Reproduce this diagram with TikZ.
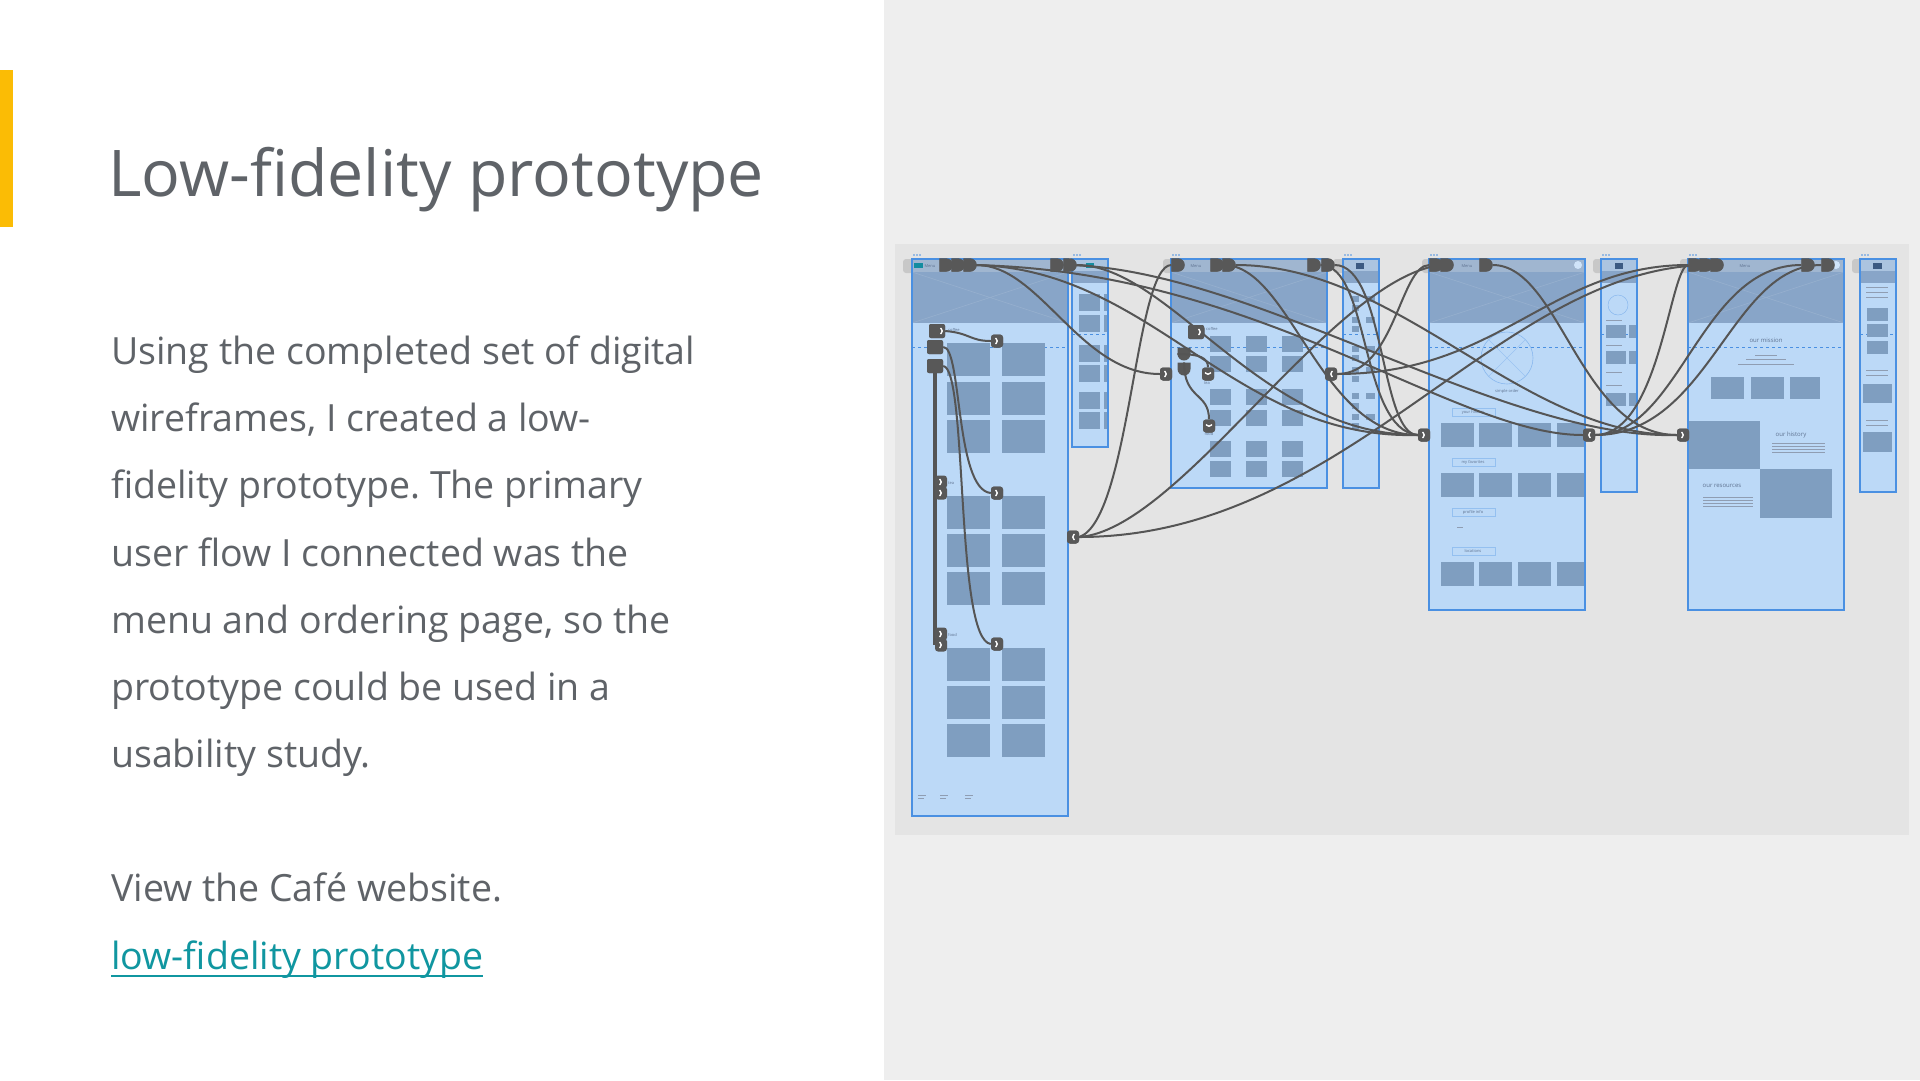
\documentclass[tikz,border=0pt]{standalone}
\usepackage{fontspec}
\setmainfont{Open Sans}
\usetikzlibrary{shapes.misc}
\frenchspacing
\definecolor{txt}{RGB}{95,99,104}
\definecolor{linkc}{RGB}{16,150,160}
\definecolor{yel}{RGB}{251,188,5}
\definecolor{panel}{RGB}{238,238,238}
\definecolor{canvas}{RGB}{228,228,228}
\definecolor{frbg}{RGB}{188,217,247}
\definecolor{frline}{RGB}{74,144,226}
\definecolor{hdr}{RGB}{136,165,200}
\definecolor{navc}{RGB}{160,182,208}
\definecolor{blk}{RGB}{127,158,192}
\definecolor{hotc}{RGB}{88,88,88}
\definecolor{wire}{RGB}{85,85,85}
\definecolor{tabc}{RGB}{200,200,200}
\definecolor{tiny}{RGB}{95,115,145}
\definecolor{logo}{RGB}{20,140,160}
\definecolor{navy}{RGB}{60,90,130}
\begin{document}
\begin{tikzpicture}[x=1pt,y=-1pt,
  body/.style={anchor=base west, inner sep=0, text=txt, font=\fontsize{37.5}{37.5}\selectfont},
  frborder/.style={draw=frline, line width=1.2pt},
  wirel/.style={draw=wire, line width=2pt},
  hotD/.style={rounded rectangle, rounded rectangle west arc=none, fill=hotc, minimum width=12pt, minimum height=13pt, inner sep=0},
  hotsq/.style={rectangle, rounded corners=2pt, fill=hotc, minimum width=16pt, minimum height=14pt, inner sep=0},
  mk/.style={rectangle, rounded corners=3pt, fill=hotc, minimum width=12pt, minimum height=13pt, inner sep=0},
  chevR/.style={mk, path picture={\draw[white,line width=1.4pt] ([xshift=-1.5pt,yshift=2.8pt]path picture bounding box.center) -- ([xshift=1.5pt]path picture bounding box.center) -- ([xshift=-1.5pt,yshift=-2.8pt]path picture bounding box.center);}},
  chevL/.style={mk, path picture={\draw[white,line width=1.4pt] ([xshift=1.5pt,yshift=2.8pt]path picture bounding box.center) -- ([xshift=-1.5pt]path picture bounding box.center) -- ([xshift=1.5pt,yshift=-2.8pt]path picture bounding box.center);}},
  chevD/.style={mk, path picture={\draw[white,line width=1.4pt] ([xshift=-2.8pt,yshift=1.5pt]path picture bounding box.center) -- ([yshift=-1.5pt]path picture bounding box.center) -- ([xshift=2.8pt,yshift=1.5pt]path picture bounding box.center);}},
  lbl/.style={inner sep=0, text=tiny, font=\fontsize{4}{4}\selectfont},
  lblb/.style={inner sep=0, text=tiny, font=\fontsize{6}{6}\selectfont},
  tline/.style={draw=tiny!70, line width=0.7pt}
]
\useasboundingbox (0,0) rectangle (1920,1080);
\fill[white] (0,0) rectangle (1920,1080);
\fill[panel] (884,0) rectangle (1920,1080);
\fill[canvas] (895,244) rectangle (1909,835);
\fill[yel] (0,70) rectangle (13,227);

% ---------- left text ----------
\node[anchor=base west, inner sep=0, text=txt, font=\fontsize{64.4}{64.4}\selectfont] (title) at (108,196) {Low-fidelity prototype};
\node[body] (b1) at (111,364) {Using the completed set of digital};
\node[body] (b2) at (111,431) {wireframes, I created a low-};
\node[body] (b3) at (111,498) {fidelity prototype. The primary};
\node[body] (b4) at (111,566) {user flow I connected was the};
\node[body] (b5) at (111,633) {menu and ordering page, so the};
\node[body] (b6) at (111,700) {prototype could be used in a};
\node[body] (b7) at (111,767) {usability study.};
\node[body] (b8) at (111,901) {View the Café website.};
\node[body, text=linkc] (lnk) at (111,969) {low-fidelity prototype};
\draw[linkc, line width=2.2pt] ([yshift=-7pt]lnk.base west) -- ([yshift=-7pt]lnk.base east);

% ---------- tabs left of frames ----------
\foreach \x/\w in {903/14,1163/12,1422/10,1333/12,1593/10,1680/10,1852/10}
  \fill[tabc, rounded corners=3pt] (\x,259) rectangle (\x+\w,273);

% ---------- wide frames ----------
\foreach \x/\b in {912/816,1171/488,1429/610,1688/610} {
  \fill[frbg] (\x,259) rectangle (\x+156,\b);
  \fill[hdr] (\x,272) rectangle (\x+156,323);
  \draw[white, opacity=0.12, line width=0.6pt] (\x,272) -- (\x+156,323) (\x,323) -- (\x+156,272);
  \fill[navc] (\x,259) rectangle (\x+156,272);
  \draw[frline, dashed, line width=0.9pt, dash pattern=on 3pt off 3pt] (\x,347) -- (\x+156,347);
  \foreach \d in {2,5,8} \fill[frline] (\x+\d,255) circle (0.9);
}
% ---------- narrow frames ----------
\foreach \x/\b in {1072/447,1343/488,1601/492,1860/492} {
  \fill[frbg] (\x,259) rectangle (\x+36,\b);
  \fill[hdr] (\x,271) rectangle (\x+36,283);
  \fill[navc!60!frbg] (\x,259) rectangle (\x+36,271);
  \draw[frline, dashed, line width=0.9pt, dash pattern=on 3pt off 3pt] (\x,334) -- (\x+36,334);
  \foreach \d in {2,5,8} \fill[frline] (\x+\d,255) circle (0.9);
}

% nav details
\fill[logo] (914,263) rectangle (923,268);
\node[lbl] (mn1) at (930,266) {Menu};
\node[lbl] (mn3) at (1196,266) {Menu};
\node[lbl] (mn5) at (1467,266) {Menu};
\node[lbl] (mn7) at (1745,266) {Menu};
\fill[logo] (1086,263) rectangle (1094,268);
\fill[navy] (1356,263) rectangle (1364,269);
\fill[navy] (1615,263) rectangle (1623,269);
\fill[navy] (1873,263) rectangle (1882,269);
\fill[frbg!70!white] (1578,265) circle (4);
\fill[frbg!70!white] (1836,265) circle (4);

% ---------- F1 blocks ----------
\foreach \y in {343,382,420,496,534,572,648,686,724} {
  \fill[blk] (947,\y) rectangle (990,\y+33);
  \fill[blk] (1002,\y) rectangle (1045,\y+33);
}
\node[lbl, anchor=west] (f1c) at (948,330) {coffee};
\node[lbl, anchor=west] (f1t) at (948,483) {tea};
\node[lbl, anchor=west] (f1f) at (948,635) {food};
\foreach \x in {918,940,965} \draw[tline] (\x,795) -- (\x+8,795) (\x,798) -- (\x+6,798);

% ---------- F2 blocks ----------
\foreach \y in {294,315,345,365,392,412} {
  \fill[blk] (1079,\y) rectangle (1100,\y+17);
  \fill[blk] (1104,\y) rectangle (1108,\y+17);
}

% ---------- F3 blocks ----------
\foreach \y in {336,356,389,410,441,461}
  \foreach \x in {1210,1246,1282}
    \fill[blk] (\x,\y) rectangle (\x+21,\y+16);
\node[lbl, anchor=west] (f3c) at (1206,329) {coffee};
\node[lbl] (f3t) at (1207,383) {tea};
\node[lbl] (f3f) at (1209,434) {food};

% ---------- F4 blocks ----------
\foreach \y in {296,305,317,326,346,355,367,376,393,403,414,423}
  \fill[blk] (1352,\y) rectangle (1359,\y+6);
\foreach \y in {296,317,346,367,393,414}
  \fill[blk] (1366,\y) rectangle (1375,\y+6);

% ---------- F5 content ----------
\draw[frline!45!frbg, line width=0.6pt] (1507,358) circle (26);
\draw[frline!30!frbg, line width=0.5pt] (1489,340) -- (1525,376) (1489,376) -- (1525,340);
\node[lbl] (so) at (1507,391) {simple order};
\foreach \y/\t in {408/your history,458/my favorites,508/profile info,547/locations} {
  \draw[frline!35!frbg, line width=0.5pt] (1452,\y) rectangle (1495,\y+8);
  \node[lbl] at (1473,\y+4) {\t};
}
\draw[tline] (1457,527) -- (1463,527);
\foreach \y in {423,473,562} {
  \foreach \x in {1441,1479,1518} \fill[blk] (\x,\y) rectangle (\x+33,\y+24);
  \fill[blk] (1557,\y) rectangle (1584,\y+24);
}

% ---------- F6 content ----------
\draw[frline!45!frbg, line width=0.5pt] (1618,305) circle (10);
\foreach \y in {325,351,393} {
  \fill[blk] (1606,\y) rectangle (1626,\y+13);
  \fill[blk] (1629,\y) rectangle (1637,\y+13);
}
\foreach \y in {320,345,372,385} \draw[tline] (1606,\y) -- (1622,\y);

% ---------- F7 content ----------
\node[lblb] (om) at (1766,340) {our mission};
\draw[tline] (1755,355) -- (1777,355) (1746,359) -- (1786,359) (1738,364) -- (1794,364);
\foreach \x in {1711,1751} \fill[blk] (\x,377) rectangle (\x+33,399);
\fill[blk] (1790,377) rectangle (1820,399);
\fill[blk] (1688,421) rectangle (1760,469);
\fill[blk] (1760,469) rectangle (1832,518);
\node[lblb] (oh) at (1791,435) {our history};
\foreach \y in {443,446,449,452} \draw[tline] (1772,\y) -- (1825,\y);
\node[lblb] (ors) at (1722,486) {our resources};
\foreach \y in {497,500,503,506} \draw[tline] (1703,\y) -- (1753,\y);

% ---------- F8 content ----------
\foreach \y in {308,324,341} \fill[blk] (1867,\y) rectangle (1888,\y+13);
\fill[blk] (1863,384) rectangle (1892,403);
\fill[blk] (1863,432) rectangle (1892,452);
\foreach \y in {287,292,297,370,375,420,425} \draw[tline] (1866,\y) -- (1888,\y);

% ---------- frame borders ----------
\foreach \x/\b in {912/816,1171/488,1429/610,1688/610}
  \draw[frborder] (\x,259) rectangle (\x+156,\b);
\foreach \x/\b in {1072/447,1343/488,1601/492,1860/492}
  \draw[frborder] (\x,259) rectangle (\x+36,\b);

% ---------- hotspot and target nodes ----------
\node[hotD] (n1a) at (946,265) {};
\node[hotD] (n1b) at (958,265) {};
\node[hotD] (n1c) at (970,265) {};
\node[hotD] (n1d) at (1057,265) {};
\node[hotD] (n1e) at (1070,265) {};
\node[hotD] (n3a) at (1178,265) {};
\node[hotD] (n3b) at (1217,265) {};
\node[hotD] (n3c) at (1229,265) {};
\node[hotD] (n3d) at (1314,265) {};
\node[hotD] (n3e) at (1328,265) {};
\node[hotD] (n5a) at (1436,265) {};
\node[hotD] (n5b) at (1447,265) {};
\node[hotD] (n5c) at (1486,265) {};
\node[hotD] (n7a) at (1695,265) {};
\node[hotD] (n7b) at (1706,265) {};
\node[hotD] (n7c) at (1717,265) {};
\node[hotD] (n7d) at (1808,265) {};
\node[hotD] (n7e) at (1828,265) {};

\node[chevR] (t1) at (1166,374) {};
\node[chevL] (t5) at (1331,374) {};
\node[chevR] (t2) at (1424,435) {};
\node[chevL] (t4) at (1589,435) {};
\node[chevR] (t3) at (1683,435) {};
\node[chevL] (t6) at (1073,537) {};
\node[chevR] (i1) at (997,341) {};
\node[chevR] (i2) at (997,493) {};
\node[chevR] (i3) at (997,644) {};
\node[hotsq] (L1) at (937,331) {};
\node[hotsq] (L2) at (935,347) {};
\node[hotsq] (L3) at (935,366) {};
\node[hotsq] (S1) at (1196,332) {};
\node[hotD, rotate=-90] (S2) at (1184,354) {};
\node[hotD, rotate=-90] (S3) at (1184,369) {};
\node[chevD] (v1) at (1208,374) {};
\node[chevD] (v2) at (1209,426) {};

% ---------- connectors ----------
\draw[wirel] (n1c.east) .. controls (1040,265) and (1080,374) .. (t1.west);
\draw[wirel] (n1e.east) .. controls (1170,265) and (1260,435) .. (t2.west);
\draw[wirel] (n1b.east) .. controls (1150,262) and (1230,440) .. (t2.west);
\draw[wirel] (n1a.east) .. controls (1250,262) and (1450,435) .. (t4.west);
\draw[wirel] (n1d.east) .. controls (1250,266) and (1500,440) .. (t3.west);
\draw[wirel] (n3c.east) .. controls (1400,265) and (1520,435) .. (t3.west);
\draw[wirel] (n3a.west) .. controls (1135,265) and (1130,520) .. (t6.east);
\draw[wirel] (t6.east) .. controls (1180,530) and (1330,280) .. (n5b.west);
\draw[wirel] (t6.east) .. controls (1350,537) and (1500,265) .. (n7c.west);
\draw[wirel] (t5.east) .. controls (1500,374) and (1550,265) .. (n7a.west);
\draw[wirel] (n5a.west) .. controls (1400,265) and (1395,374) .. (t5.east);
\draw[wirel] (n3d.east) .. controls (1370,265) and (1360,430) .. (t2.west);
\draw[wirel] (n3e.east) .. controls (1385,265) and (1380,435) .. (t2.west);
\draw[wirel] (n3b.east) .. controls (1290,265) and (1320,435) .. (t2.west);
\draw[wirel] (n5c.east) .. controls (1560,265) and (1580,435) .. (t3.west);
\draw[wirel] (t4.east) .. controls (1680,435) and (1700,265) .. (n7d.west);
\draw[wirel] (t4.east) .. controls (1710,435) and (1730,265) .. (n7e.west);
\draw[wirel] (t4.east) .. controls (1660,435) and (1670,265) .. (n7a.west);
% F1 internal
\draw[wirel] (L1.east) .. controls (970,333) and (970,341) .. (i1.west);
\draw[wirel] (L2.east) .. controls (962,346) and (955,490) .. (i2.west);
\draw[wirel] (L3.east) .. controls (968,368) and (955,640) .. (i3.west);
\coordinate (vend) at (938,645);
\draw[wire, line width=3.5pt] (L3.south) -- (L3.south |- vend);
\node[chevR] (m1) at (941,482) {};
\node[chevR] (m2) at (941,493) {};
\node[chevR] (m3) at (941,634) {};
\node[chevR] (m4) at (941,645) {};
% F3 internal
\draw[wirel] (S2.south) .. controls (1200,354) and (1208,358) .. (v1.north);
\draw[wirel] (S3.west) .. controls (1184,400) and (1209,392) .. (v2.north);
% redraw hotspots on top
\foreach \n in {n1a,n1b,n1c,n1d,n1e,n3a,n3b,n3c,n3d,n3e,n5a,n5b,n5c,n7a,n7b,n7c,n7d,n7e}
  \fill[hotc] (\n.north west) -- (\n.north) to[out=0,in=90] (\n.east) to[out=-90,in=0] (\n.south) -- (\n.south west) -- cycle;
\foreach \n/\s in {t1/chevR,t5/chevL,t2/chevR,t4/chevL,t3/chevR,t6/chevL,i1/chevR,i2/chevR,i3/chevR,v1/chevD,v2/chevD}
  \node[\s] at (\n) {};
\node[hotsq] at (L1) {};
\node[hotsq] at (L2) {};
\node[hotsq] at (L3) {};
\node[chevR, minimum width=9pt, fill=none] at (942,331) {};
\node[hotsq] at (S1) {};
\node[chevR, minimum width=9pt] at (1200,332) {};
\end{tikzpicture}
\end{document}
